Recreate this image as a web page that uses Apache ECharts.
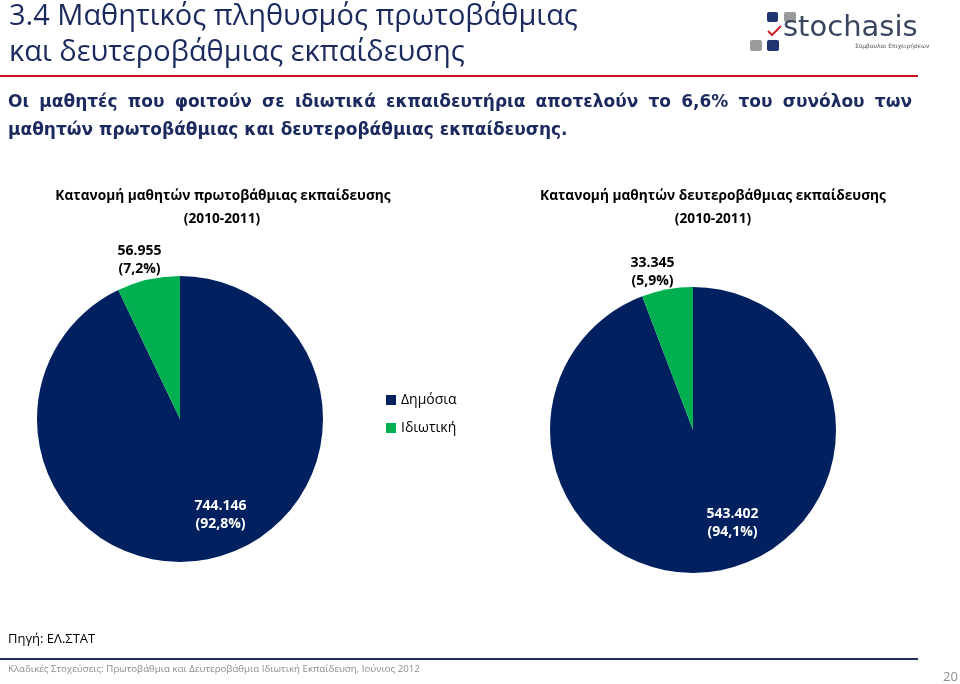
<!DOCTYPE html>
<html>
<head>
<meta charset="utf-8">
<script src="https://cdn.jsdelivr.net/npm/echarts@6/dist/echarts.min.js"></script>
<style>
html,body{margin:0;padding:0;background:#fff;}
#chart{width:960px;height:684px;}
</style>
</head>
<body>
<div id="chart"></div>
<script>
// ---- data ----
const categories = ['Δημόσια', 'Ιδιωτική'];
const primaryValues = [744146, 56955];
const secondaryValues = [543402, 33345];
const primaryPct = ['92,8%', '7,2%'];
const secondaryPct = ['94,1%', '5,9%'];
const colors = ['#002060', '#00B050'];

const headerTitle = ['3.4 Μαθητικός πληθυσμός πρωτοβάθμιας', 'και δευτεροβάθμιας εκπαίδευσης'];
const bodyLine1 = 'Οι μαθητές που φοιτούν σε ιδιωτικά εκπαιδευτήρια αποτελούν το 6,6% του συνόλου των';
const bodyLine2 = 'μαθητών πρωτοβάθμιας και δευτεροβάθμιας εκπαίδευσης.';
const pieTitles = [
  ['Κατανομή μαθητών πρωτοβάθμιας εκπαίδευσης', '(2010-2011)'],
  ['Κατανομή μαθητών δευτεροβάθμιας εκπαίδευσης', '(2010-2011)']
];
const sourceText = 'Πηγή: ΕΛ.ΣΤΑΤ';
const footerText = 'Κλαδικές Στοχεύσεις: Πρωτοβάθμια και Δευτεροβάθμια Ιδιωτική Εκπαίδευση, Ιούνιος 2012';
const pageNum = '20';

function fmt(v){ return String(v).replace(/\B(?=(\d{3})+(?!\d))/g, '.'); }

const chart = echarts.init(document.getElementById('chart'), null, {renderer:'canvas'});

// justified body line
const bodyFont = 'bold 17px "DejaVu Sans"';
const mctx = document.createElement('canvas').getContext('2d');
mctx.font = bodyFont;
const words = bodyLine1.split(' ');
const wsum = words.reduce((s,w)=>s+mctx.measureText(w).width,0);
const x0 = 8, x1 = 912;
const gap = (x1 - x0 - wsum)/(words.length-1);
const bodyGraphics = [];
let cx = x0;
words.forEach(w=>{
  bodyGraphics.push({type:'text', left:cx, top:94, style:{text:w, font:bodyFont, fill:'#1B2A5E'}});
  cx += mctx.measureText(w).width + gap;
});
bodyGraphics.push({type:'text', left:8, top:122, style:{text:bodyLine2, font:bodyFont, fill:'#1B2A5E'}});

const labelOffsets = [
  [[24, 23], [-24, -86]],
  [[26, 20], [-27, -85]]
];

function makeSeries(name, values, pcts, center, offs){
  return {
    type:'pie', name:name, center:center, radius:143, startAngle:90, clockwise:true,
    avoidLabelOverlap:false, animation:false,
    label:{show:true, position:'inside', fontFamily:'Open Sans', fontWeight:'bold', fontSize:14, lineHeight:18,
      formatter:p=>fmt(p.value)+'\n('+pcts[p.dataIndex]+')'},
    labelLine:{show:false},
    emphasis:{disabled:true},
    itemStyle:{borderWidth:0},
    data: values.map((v,i)=>({name:categories[i], value:v, itemStyle:{color:colors[i]},
      label:{color: i===0 ? '#ffffff' : '#000000', offset:offs[i]}}))
  };
}

const tStyle = {fontFamily:'Open Sans', fontWeight:'bold', fontSize:13.7, color:'#000'};
const option = {
  backgroundColor:'#ffffff',
  animation:false,
  title:[
    {text:pieTitles[0][0], left:218, top:184, textAlign:'center', textStyle:tStyle},
    {text:pieTitles[0][1], left:217, top:207, textAlign:'center', textStyle:tStyle},
    {text:pieTitles[1][0], left:708, top:184, textAlign:'center', textStyle:tStyle},
    {text:pieTitles[1][1], left:708, top:207, textAlign:'center', textStyle:tStyle}
  ],
  legend:{
    data:categories, orient:'vertical', left:381, top:388, icon:'rect', itemWidth:10, itemHeight:10, itemGap:14,
    textStyle:{fontFamily:'Open Sans', fontSize:14, color:'#000'}, selectedMode:false
  },
  series:[
    makeSeries('Πρωτοβάθμια', primaryValues, primaryPct, [180, 419], labelOffsets[0]),
    makeSeries('Δευτεροβάθμια', secondaryValues, secondaryPct, [693, 430], labelOffsets[1])
  ],
  graphic:[
    {type:'text', left:9, top:2, style:{text:headerTitle[0], font:'29px "Open Sans"', fill:'#1B2A5E'}},
    {type:'text', left:9, top:38, style:{text:headerTitle[1], font:'29px "Open Sans"', fill:'#1B2A5E'}},
    {type:'rect', shape:{x:0, y:75, width:918, height:2}, style:{fill:'#C8141E'}},
    // logo
    {type:'rect', shape:{x:767, y:12, width:11, height:10, r:2}, style:{fill:'#1F3470'}},
    {type:'rect', shape:{x:784, y:12, width:12, height:10, r:2}, style:{fill:'#9A9A9A'}},
    {type:'rect', shape:{x:750, y:40, width:12, height:11, r:2}, style:{fill:'#9A9A9A'}},
    {type:'rect', shape:{x:767, y:40, width:12, height:11, r:2}, style:{fill:'#1F3470'}},
    {type:'polyline', shape:{points:[[768,31],[772,35],[781,26]]}, style:{stroke:'#D0202A', lineWidth:2, fill:null}},
    {type:'text', left:783, top:14, style:{text:'stochasis', font:'29px "DejaVu Sans"', fill:'#3A4560'}},
    {type:'text', left:855, top:43, style:{text:'Σύμβουλοι Επιχειρήσεων', font:'6px "DejaVu Sans"', fill:'#555'}},
    ...bodyGraphics,
    {type:'text', left:8, top:633, style:{text:sourceText, font:'13px "Open Sans"', fill:'#000'}},
    {type:'rect', shape:{x:0, y:658, width:918, height:2}, style:{fill:'#1F2D5E'}},
    {type:'text', left:8, top:664, style:{text:footerText, font:'9.7px "Open Sans"', fill:'#8C8C8C'}},
    {type:'text', left:943, top:671, style:{text:pageNum, font:'13px "Open Sans"', fill:'#8C8C8C'}}
  ]
};
chart.setOption(option);
</script>
</body>
</html>
